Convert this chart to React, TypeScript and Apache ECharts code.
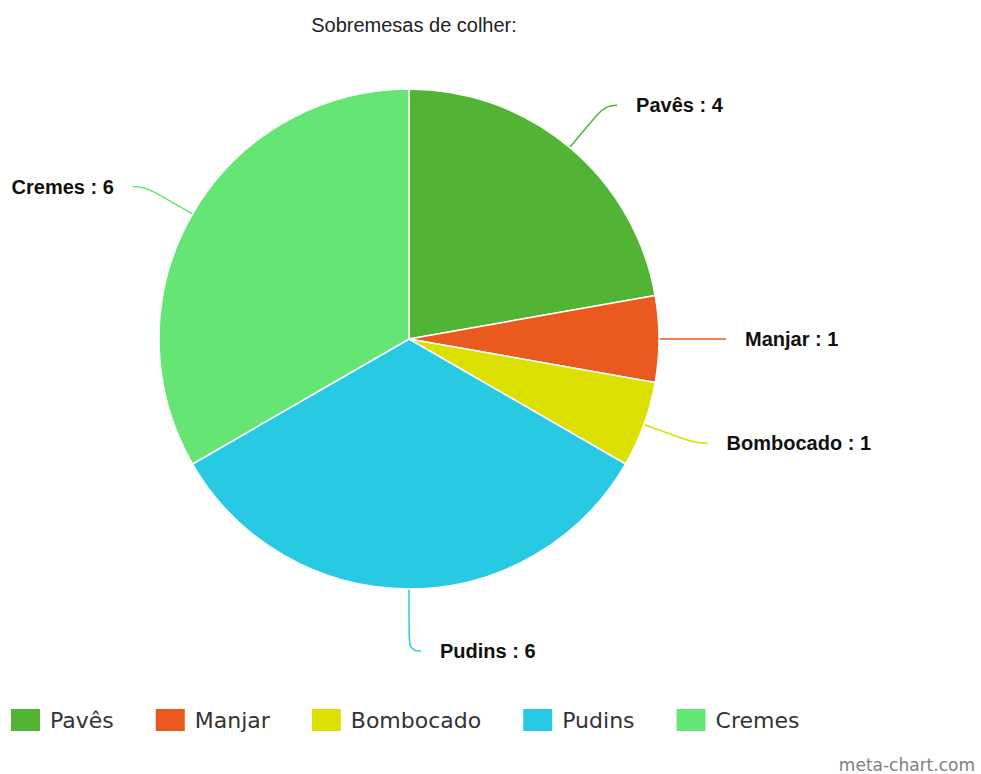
import React, { useEffect, useRef } from "react";
import * as echarts from "echarts";

const categories = ["Pavês", "Manjar", "Bombocado", "Pudins", "Cremes"];
const values = [4, 1, 1, 6, 6];
const colors = ["#52b435", "#ea5a1e", "#dce000", "#27c9e3", "#64e574"];
const titleText = "Sobremesas de colher:";
const watermark = "meta-chart.com";

export default function App() {
  const ref = useRef<HTMLDivElement>(null);
  useEffect(() => {
    if (!ref.current) return;
    const chart = echarts.init(ref.current, null, { renderer: "svg" });
    chart.setOption({
      animation: false,
      backgroundColor: "#ffffff",
      title: {
        text: titleText,
        left: 409,
        textAlign: "center",
        top: 10,
        textStyle: {
          fontFamily: "Liberation Sans, Arial, sans-serif",
          fontWeight: "normal",
          fontSize: 20,
          color: "#222",
        },
      },
      legend: {
        data: categories,
        left: 9,
        top: 707,
        padding: 0,
        orient: "horizontal",
        itemWidth: 31,
        itemHeight: 24,
        itemGap: 40,
        icon: "rect",
        textStyle: {
          fontFamily: "DejaVu Sans, sans-serif",
          fontSize: 22,
          color: "#333",
          padding: [0, 0, 0, 4],
        },
      },
      graphic: [
        {
          type: "text",
          right: 6,
          top: 756,
          style: {
            text: watermark,
            fontFamily: "DejaVu Sans, sans-serif",
            fontSize: 17,
            fill: "#808080",
          },
        },
      ],
      series: [
        {
          type: "pie",
          center: [409, 339],
          radius: 250,
          startAngle: 90,
          clockwise: true,
          avoidLabelOverlap: false,
          data: categories.map((name, i) => ({
            name,
            value: values[i],
            itemStyle: { color: colors[i] },
            labelLine: name === "Pudins" ? { length: 62 } : undefined,
          })),
          itemStyle: { borderColor: "#ffffff", borderWidth: 1.5 },
          label: {
            show: true,
            position: "outside",
            formatter: "{b} : {c}",
            fontFamily: "Liberation Sans, Arial, sans-serif",
            fontWeight: "bold",
            fontSize: 20,
            color: "#111",
            distanceToLabelLine: 19,
          },
          labelLine: {
            show: true,
            length: 55,
            length2: 12,
            smooth: 0.5,
            lineStyle: { width: 1.5 },
          },
          emphasis: { disabled: true },
        },
      ],
    });
    return () => chart.dispose();
  }, []);
  return (
    <div
      ref={ref}
      style={{ position: "fixed", left: 0, top: 0, width: 981, height: 774 }}
    />
  );
}
